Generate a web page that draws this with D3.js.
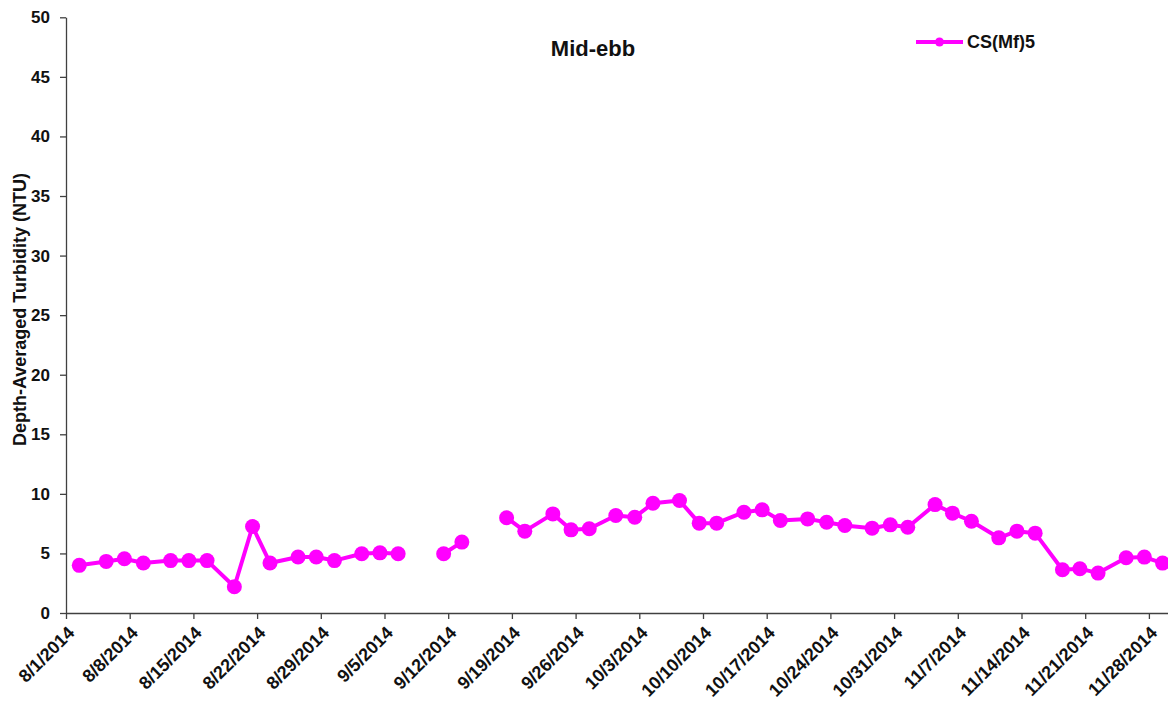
<!DOCTYPE html>
<html>
<head>
<meta charset="utf-8">
<script src="https://cdn.jsdelivr.net/npm/d3@7"></script>
<style>
  body { margin: 0; background: #fff; }
  svg { display: block; font-family: "Liberation Sans", Arial, sans-serif; }
</style>
</head>
<body>
<div id="chart"></div>
<script>
// Mid-ebb depth-averaged turbidity at CS(Mf)5
const seriesName = "CS(Mf)5";
const chartTitle = "Mid-ebb";
const yLabel = "Depth-Averaged Turbidity (NTU)";

// sampling times (null values break the line)
const times = [
    "8/2/2014 11:00", "8/5/2014 10:00", "8/7/2014 10:00", "8/9/2014 12:00", "8/12/2014 12:00",
    "8/14/2014 12:00", "8/16/2014 12:00", "8/19/2014 12:00", "8/21/2014 12:00", "8/23/2014 10:00",
    "8/26/2014 12:00", "8/28/2014 12:00", "8/30/2014 12:00", "9/2/2014 12:00", "9/4/2014 12:00",
    "9/6/2014 12:00", "9/9/2014 00:00", "9/11/2014 12:00", "9/13/2014 12:00", "9/16/2014 00:00",
    "9/18/2014 10:00", "9/20/2014 10:00", "9/23/2014 12:00", "9/25/2014 12:00", "9/27/2014 12:00",
    "9/30/2014 10:00", "10/2/2014 12:00", "10/4/2014 12:00", "10/7/2014 10:00", "10/9/2014 14:00",
    "10/11/2014 12:00", "10/14/2014 12:00", "10/16/2014 12:00", "10/18/2014 12:00", "10/21/2014 12:00",
    "10/23/2014 14:00", "10/25/2014 14:00", "10/28/2014 14:00", "10/30/2014 14:00", "11/1/2014 12:00",
    "11/4/2014 12:00", "11/6/2014 10:00", "11/8/2014 12:00", "11/11/2014 12:00", "11/13/2014 12:00",
    "11/15/2014 12:00", "11/18/2014 12:00", "11/20/2014 10:00", "11/22/2014 10:00", "11/25/2014 12:00",
    "11/27/2014 12:00", "11/29/2014 12:00"
];

const turbidity = [
    4.0, 4.33, 4.55, 4.2, 4.4,
    4.4, 4.4, 2.2, 7.26, 4.2,
    4.7, 4.7, 4.4, 4.97, 5.05,
    4.97, null, 4.97, 5.95, null,
    7.99, 6.87, 8.32, 6.98, 7.07,
    8.18, 8.04, 9.21, 9.44, 7.54,
    7.54, 8.46, 8.66, 7.76, 7.9,
    7.62, 7.34, 7.12, 7.4, 7.2,
    9.1, 8.38, 7.7, 6.31, 6.87,
    6.7, 3.63, 3.72, 3.35, 4.64,
    4.69, 4.19
];

const yTicks = [0, 5, 10, 15, 20, 25, 30, 35, 40, 45, 50];
const xStart = "8/1/2014";
const xEnd = "12/1/2014";
const lastTick = "11/28/2014";

{
    const W = 1168, H = 704;
    const left = 66, top = 17.3, bottom = 613;
    const dayPx = 9.1;
    const color = "#ff00ff";
    const axisColor = "#404040";

    const parseTime = d3.timeParse("%m/%d/%Y %H:%M");
    const parseDay = d3.timeParse("%m/%d/%Y");
    const fmt = d3.timeFormat("%-m/%-d/%Y");

    const data = times.map((t, i) => ({ date: parseTime(t), value: turbidity[i] }));

    const x0 = parseDay(xStart), x1 = parseDay(xEnd);
    const nDays = d3.timeDay.count(x0, x1);

    const x = d3.scaleTime()
        .domain([x0, x1])
        .range([left, left + nDays * dayPx]);

    const y = d3.scaleLinear()
        .domain([0, 50])
        .range([bottom, top]);

    const svg = d3.select("#chart")
        .append("svg")
        .attr("width", W)
        .attr("height", H);

    // y axis
    const yAxis = svg.append("g")
        .attr("transform", `translate(${left},0)`)
        .call(d3.axisLeft(y).tickValues(yTicks).tickSize(6).tickPadding(10).tickSizeOuter(0));

    yAxis.select(".domain").attr("stroke", axisColor).attr("stroke-width", 1.3);
    yAxis.selectAll(".tick line").attr("stroke", axisColor).attr("stroke-width", 1.3);
    yAxis.selectAll(".tick text")
        .attr("fill", "#111")
        .attr("font-size", "17px")
        .attr("font-weight", "bold");

    // x axis, weekly ticks on Fridays (8/1/2014 is a Friday)
    const xTickDates = d3.timeFriday.range(x0, d3.timeDay.offset(parseDay(lastTick), 1));
    const xAxis = svg.append("g")
        .attr("transform", `translate(0,${bottom})`)
        .call(d3.axisBottom(x).tickValues(xTickDates).tickFormat(fmt).tickSize(6).tickSizeOuter(0));

    xAxis.select(".domain").attr("stroke", axisColor).attr("stroke-width", 1.3);
    xAxis.selectAll(".tick line").attr("stroke", axisColor).attr("stroke-width", 1.3);
    xAxis.selectAll(".tick text")
        .attr("fill", "#111")
        .attr("font-size", "18px")
        .attr("font-weight", "bold")
        .attr("text-anchor", "end")
        .attr("dy", null)
        .attr("y", 0)
        .attr("transform", "translate(9,21) rotate(-45)");

    // y axis title
    svg.append("text")
        .attr("transform", `translate(26,${(167 + 452) / 2}) rotate(-90)`)
        .attr("text-anchor", "middle")
        .attr("font-size", "18px")
        .attr("font-weight", "bold")
        .attr("fill", "#111")
        .text(yLabel);

    // chart title
    svg.append("text")
        .attr("x", 593)
        .attr("y", 56)
        .attr("text-anchor", "middle")
        .attr("font-size", "22px")
        .attr("font-weight", "bold")
        .attr("fill", "#111")
        .text(chartTitle);

    // series line
    const line = d3.line()
        .defined(d => d.value !== null)
        .x(d => x(d.date))
        .y(d => y(d.value));

    svg.append("path")
        .datum(data)
        .attr("fill", "none")
        .attr("stroke", color)
        .attr("stroke-width", 4)
        .attr("stroke-linejoin", "round")
        .attr("d", line);

    svg.selectAll(".pt")
        .data(data.filter(d => d.value !== null))
        .enter()
        .append("circle")
        .attr("class", "pt")
        .attr("cx", d => x(d.date))
        .attr("cy", d => y(d.value))
        .attr("r", 7.5)
        .attr("fill", color);

    // legend
    const lg = svg.append("g").attr("transform", "translate(916,42)");
    lg.append("line")
        .attr("x1", 0).attr("x2", 47)
        .attr("stroke", color).attr("stroke-width", 4);
    lg.append("circle")
        .attr("cx", 23.5).attr("r", 4.5).attr("fill", color);
    lg.append("text")
        .attr("x", 51)
        .attr("y", 0)
        .attr("dy", "0.35em")
        .attr("font-size", "18px")
        .attr("font-weight", "bold")
        .attr("fill", "#111")
        .text(seriesName);
}
</script>
</body>
</html>
